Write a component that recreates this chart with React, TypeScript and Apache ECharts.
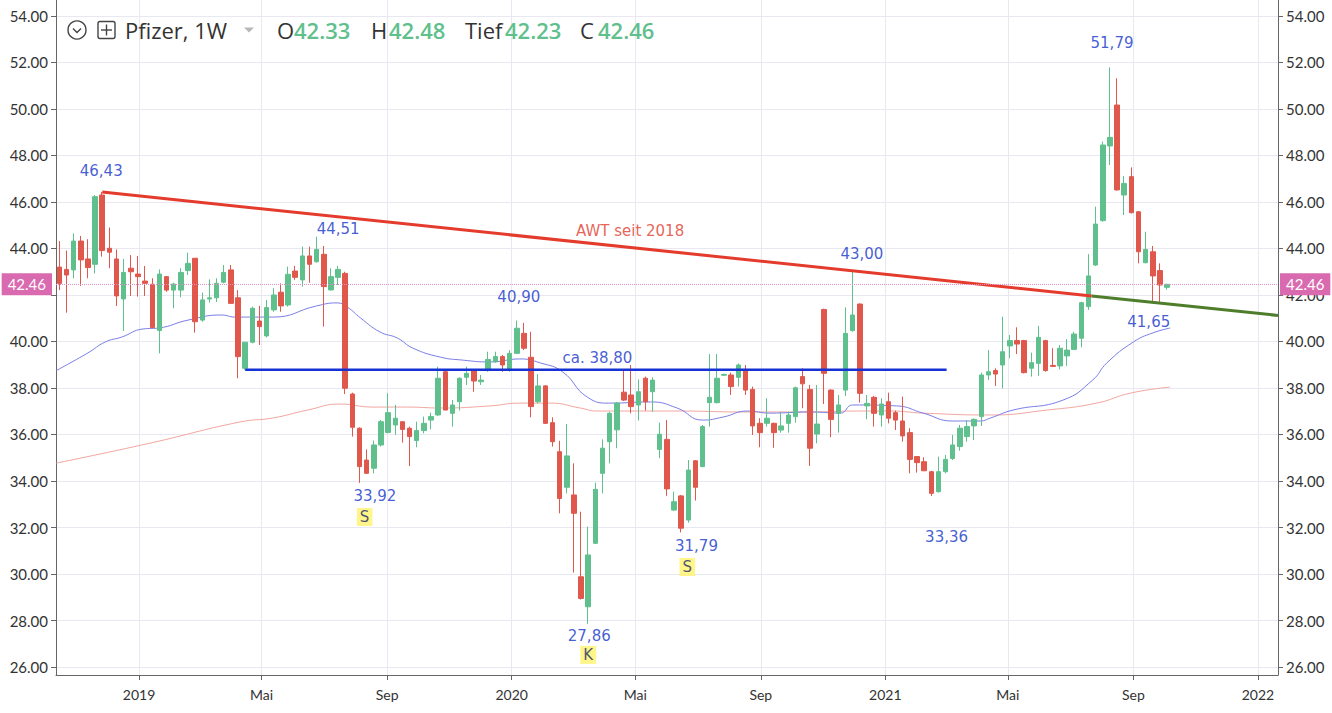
import React, { useEffect, useRef } from "react";
import * as echarts from "echarts";

// ---- data -----------------------------------------------------------------
const firstWeek = "2018-10-15"; // Monday of the first weekly candle

const opens = [
  43.20, 43.10, 43.08, 44.32, 43.55, 43.32, 46.30, 44.01, 43.55, 41.83,
  43.15, 42.90, 42.60, 42.46, 40.47, 42.79, 42.21, 42.21, 43.05, 43.58,
  40.92, 41.83, 41.88, 42.55, 43.08, 41.88, 38.85, 39.97, 40.88, 40.24,
  41.36, 42.12, 41.57, 43.03, 42.65, 43.68, 43.43, 43.75, 42.22, 42.76,
  42.93, 37.74, 36.27, 34.90, 34.55, 35.55, 36.09, 36.41, 36.55, 36.27,
  35.74, 36.17, 36.62, 36.84, 38.70, 36.91, 37.41, 38.46, 38.77, 38.27,
  38.75, 39.13, 39.35, 38.77, 39.49, 40.35, 39.32, 37.41, 38.09, 36.51,
  35.26, 33.73, 33.40, 29.88, 28.59, 31.32, 34.33, 35.69, 36.20, 37.82,
  37.70, 37.27, 38.42, 37.84, 35.36, 35.79, 32.75, 33.36, 32.32, 34.87,
  34.62, 37.37, 37.37, 38.55, 38.56, 38.46, 38.80, 37.94, 36.48, 36.48,
  36.48, 36.19, 36.48, 36.77, 38.49, 37.94, 36.02, 41.38, 37.91, 36.91,
  37.91, 40.47, 41.61, 37.23, 37.60, 36.84, 37.41, 36.94, 36.58, 36.08,
  35.05, 34.83, 34.40, 33.54, 34.40, 34.97, 35.48, 35.91, 36.37, 36.77,
  38.56, 38.75, 38.99, 39.81, 40.04, 40.04, 38.85, 39.06, 40.04, 38.97,
  38.95, 39.38, 39.66, 40.14, 41.50, 43.29, 45.20, 48.41, 50.17, 46.30,
  47.09, 45.58, 43.39, 43.86, 43.05, 42.33,
];
const closes = [
  42.50, 42.86, 44.32, 43.51, 43.18, 46.23, 43.91, 43.84, 41.96, 42.97,
  43.00, 42.79, 42.50, 40.60, 42.90, 42.21, 42.47, 42.97, 43.36, 40.85,
  41.79, 41.88, 42.50, 42.97, 41.64, 39.35, 39.97, 41.43, 40.64, 41.46,
  42.00, 41.53, 42.89, 42.76, 43.68, 43.32, 43.96, 42.36, 42.79, 43.10,
  37.99, 36.31, 34.62, 34.33, 35.55, 36.55, 36.94, 36.70, 36.22, 35.91,
  36.17, 36.48, 36.77, 38.42, 37.05, 37.27, 38.42, 38.63, 38.30, 38.34,
  39.23, 39.35, 38.99, 39.49, 40.57, 39.71, 37.20, 38.09, 36.48, 35.69,
  33.25, 35.08, 32.61, 28.95, 30.82, 33.64, 35.41, 36.91, 37.35, 37.48,
  37.20, 37.84, 37.41, 38.34, 36.01, 33.66, 33.11, 31.97, 34.47, 33.73,
  36.34, 37.60, 38.42, 38.58, 38.06, 38.99, 37.91, 36.37, 36.08, 36.70,
  36.08, 36.37, 36.84, 38.01, 38.18, 35.41, 36.45, 38.63, 36.65, 37.27,
  40.35, 41.14, 37.77, 37.34, 36.91, 37.31, 36.70, 36.62, 35.94, 34.93,
  34.79, 34.44, 33.47, 34.40, 34.93, 35.55, 36.27, 36.34, 36.65, 38.56,
  38.70, 38.60, 39.56, 40.04, 39.89, 38.66, 39.09, 40.18, 38.75, 38.93,
  39.71, 39.63, 40.32, 41.67, 42.82, 45.05, 48.45, 48.78, 46.52, 46.80,
  45.54, 43.86, 43.96, 42.82, 42.43, 42.46,
];
const lows = [
  42.21, 41.24, 42.72, 42.39, 42.72, 42.93, 43.65, 43.15, 41.53, 40.45,
  41.96, 41.93, 41.96, 40.57, 39.49, 42.14, 41.43, 41.90, 42.86, 40.38,
  40.85, 41.67, 41.70, 42.50, 41.61, 38.42, 38.78, 39.92, 39.85, 40.18,
  41.28, 41.28, 41.50, 42.65, 42.36, 42.53, 43.39, 40.64, 42.19, 42.43,
  37.74, 35.91, 33.92, 34.30, 34.33, 35.48, 36.05, 35.99, 35.65, 34.64,
  35.45, 36.05, 36.22, 36.81, 37.05, 36.34, 37.03, 38.13, 37.84, 38.13,
  38.70, 39.09, 38.70, 38.70, 39.46, 39.63, 36.74, 37.34, 36.45, 35.48,
  32.61, 33.47, 30.06, 28.90, 27.86, 31.29, 33.47, 34.76, 35.41, 37.44,
  36.91, 36.60, 37.03, 36.98, 34.98, 33.36, 32.72, 31.79, 32.21, 33.16,
  34.59, 36.34, 37.34, 38.52, 37.70, 38.06, 37.70, 35.98, 35.45, 36.34,
  35.43, 36.08, 36.08, 36.51, 37.13, 34.65, 35.62, 37.31, 35.88, 36.08,
  37.66, 40.42, 37.37, 36.65, 36.34, 36.34, 36.48, 36.19, 35.69, 34.33,
  34.36, 34.44, 33.36, 33.50, 34.33, 34.90, 35.30, 35.69, 35.76, 36.37,
  38.34, 38.09, 37.98, 39.28, 39.46, 38.63, 38.49, 38.52, 38.70, 38.92,
  38.80, 38.95, 39.66, 39.75, 41.36, 43.25, 45.15, 47.59, 46.49, 45.44,
  45.51, 43.36, 43.36, 41.71, 41.65, 42.23,
];
const highs = [
  44.32, 43.91, 44.65, 44.54, 44.40, 46.30, 46.43, 44.90, 43.96, 43.55,
  43.72, 43.68, 43.25, 42.72, 43.10, 42.82, 42.53, 43.15, 43.82, 43.58,
  42.10, 42.67, 42.72, 43.29, 43.29, 42.21, 39.97, 41.50, 41.53, 41.79,
  42.29, 42.50, 43.22, 43.25, 44.08, 44.08, 44.51, 44.11, 43.15, 43.25,
  43.00, 37.80, 36.31, 35.36, 35.74, 36.62, 37.77, 37.27, 36.58, 36.34,
  36.55, 36.77, 36.94, 38.92, 38.77, 37.48, 38.46, 38.92, 38.80, 38.56,
  39.56, 39.56, 39.42, 39.63, 40.90, 40.80, 40.42, 38.60, 38.13, 36.74,
  35.73, 36.45, 34.76, 32.68, 32.04, 33.93, 35.79, 36.98, 37.40, 38.80,
  38.99, 38.37, 38.49, 38.46, 36.51, 36.62, 33.54, 33.40, 34.90, 34.90,
  36.41, 39.46, 39.46, 38.62, 38.66, 39.06, 38.99, 38.06, 36.70, 37.56,
  36.51, 36.98, 36.98, 38.06, 38.85, 38.13, 38.13, 41.41, 37.94, 37.70,
  41.47, 43.00, 41.64, 37.70, 37.66, 37.56, 37.80, 37.03, 37.63, 36.27,
  35.07, 35.02, 34.44, 35.05, 35.12, 35.98, 36.41, 36.62, 36.70, 38.66,
  39.63, 38.85, 41.07, 40.28, 40.61, 40.07, 39.52, 40.67, 40.07, 39.71,
  39.85, 40.10, 40.42, 41.71, 43.76, 45.80, 48.60, 51.79, 51.32, 47.12,
  47.49, 45.61, 44.72, 44.11, 43.36, 42.48,
];

// moving averages: [day since 2019-01-01, price]
const maBlue: [number, number][] = [
  [-81, 38.75], [-50, 39.51], [-33, 39.98], [-17, 40.19], [4, 40.54], [19, 40.58],
  [48, 40.92], [81, 41.14], [94, 41.05], [114, 41.05], [131, 41.05], [174, 41.53],
  [194, 41.66], [204, 41.48], [217, 41.01], [236, 40.41], [253, 40.15], [268, 39.72],
  [295, 39.33], [317, 39.2], [344, 39.12], [373, 39.25], [393, 39.08], [415, 38.69],
  [439, 37.61], [461, 37.35], [501, 37.4], [527, 37.14], [552, 36.62], [572, 36.75],
  [596, 37.01], [618, 36.92], [657, 36.97], [687, 36.92], [699, 37.27], [742, 37.23],
  [768, 36.92], [797, 36.58], [824, 36.58], [834, 36.71], [856, 37.05], [905, 37.48],
  [934, 38.34], [948, 39.08], [974, 39.98], [993, 40.37], [1010, 40.58],
];
const maRed: [number, number][] = [
  [-81, 34.77], [11, 35.63], [99, 36.54], [131, 36.71], [165, 37.05], [197, 37.31],
  [229, 37.18], [263, 37.18], [295, 37.14], [344, 37.23], [373, 37.35], [403, 37.35],
  [432, 37.14], [449, 37.01], [481, 37.01], [527, 37.01], [592, 36.97], [657, 36.97],
  [703, 37.01], [736, 37.01], [768, 36.92], [834, 36.84], [889, 37.05], [938, 37.35],
  [971, 37.78], [1010, 38.04],
];

// drawn lines (day, price)
const trendRed: [number, number][] = [[-36, 46.43], [933, 41.96]];
const trendGreen: [number, number][] = [[933, 41.96], [1115.6, 41.12]];
const supportBlue: [number, number][] = [[104, 38.78], [791, 38.78]];

const xTickDays = [0, 120, 243, 365, 486, 609, 731, 851, 974, 1096];
const xTickLabels = ["2019", "Mai", "Sep", "2020", "Mai", "Sep", "2021", "Mai", "Sep", "2022"];
const yTicks = [26, 28, 30, 32, 34, 36, 38, 40, 42, 44, 46, 48, 50, 52, 54];
const lastPrice = 42.46;

const header = { title: "Pfizer, 1W", o: "42.33", h: "42.48", l: "42.23", c: "42.46" };

// annotations: [text, day, price, kind]
const notes: [string, number, number, string][] = [
  ["46,43", -37, 47.33, "blue"],
  ["44,51", 195, 44.84, "blue"],
  ["33,92", 231, 33.35, "blue"],
  ["S", 221, 32.45, "box"],
  ["40,90", 372, 41.91, "blue"],
  ["ca. 38,80", 449, 39.29, "blue"],
  ["27,86", 441, 27.33, "blue"],
  ["K", 440, 26.52, "box"],
  ["31,79", 546, 31.2, "blue"],
  ["S", 537, 30.3, "box"],
  ["43,00", 708, 43.76, "blue"],
  ["33,36", 791, 31.59, "blue"],
  ["51,79", 953, 52.84, "blue"],
  ["41,65", 989, 40.84, "blue"],
  ["AWT seit 2018", 481, 44.75, "red"],
];

// ---- styling ----------------------------------------------------------------
const GREEN = "#5fc08d";
const RED = "#e0574c";
const BLUE_TXT = "#1234c8";
const GRID = "#e8e8f2";
const FONT = "Lato, 'Noto Sans', sans-serif";
const HEAD_FONT = "'Open Sans', Lato, sans-serif";
const NOTE_FONT = "'DejaVu Sans', Verdana, sans-serif";
const Y_MIN = 25.656;
const Y_MAX = 54.688;

function dayOf(dateStr: string) {
  const [y, m, d] = dateStr.split("-").map(Number);
  return (Date.UTC(y, m - 1, d) - Date.UTC(2019, 0, 1)) / 864e5;
}

export default function App() {
  const ref = useRef<HTMLDivElement>(null);

  useEffect(() => {
    document.body.style.margin = "0";
    if (!ref.current) return;
    const chart = echarts.init(ref.current, null, { renderer: "svg" });
    const d0 = dayOf(firstWeek);
    const candles = opens.map((o, i) => [d0 + 7 * i, o, closes[i], lows[i], highs[i]]);

    const yAxisBase = (pos: "left" | "right") => ({
      type: "value",
      position: pos,
      min: Y_MIN,
      max: Y_MAX,
      axisLine: { show: true, onZero: false, lineStyle: { color: "#666", width: 1 } },
      axisTick: { show: true, customValues: yTicks, length: 5, lineStyle: { color: "#666" } },
      axisLabel: {
        customValues: yTicks,
        // on the left the last-price tag hides the 42.00 label, as in the original
        formatter: (v: number) => (pos === "left" && Math.abs(v - 42) < 0.01 ? "" : v.toFixed(2)),
        color: "#333",
        fontSize: 15,
        fontFamily: FONT,
        margin: 8,
      },
      splitLine: { show: pos === "left", lineStyle: { color: GRID, width: 1 } },
    });

    const labelFor = (v: number) => {
      const idx = xTickDays.findIndex((t) => Math.abs(t - v) < 0.5);
      return idx >= 0 ? xTickLabels[idx] : "";
    };

    const lineSeries = (data: [number, number][], color: string, width: number, z: number, smooth = false) => ({
      type: "line",
      data,
      symbol: "none",
      smooth,
      silent: true,
      z,
      lineStyle: { color, width },
    });

    const noteData = notes.map(([text, d, p, kind]) => ({
      value: [d, p],
      name: text,
      label:
        kind === "box"
          ? { color: "#1a2a6a", backgroundColor: "#fff36b", padding: [2, 3, 1, 3], fontSize: 15 }
          : { color: kind === "red" ? "#e23a2c" : BLUE_TXT, fontSize: 15 },
    }));

    const txt = (text: string, x: number, fill: string, bold = false, size = 22) => ({
      type: "text",
      x,
      y: 30,
      z: 100,
      style: {
        text,
        fill,
        fontSize: size,
        fontFamily: HEAD_FONT,
        fontWeight: bold ? 600 : "normal",
        verticalAlign: "middle",
        align: "left",
      },
    });

    chart.setOption({
      animation: false,
      backgroundColor: "#ffffff",
      grid: { left: 56, right: 54, top: 0, bottom: 38 },
      xAxis: {
        type: "value",
        min: -81.3,
        max: 1115.6,
        axisLine: { show: true, onZero: false, lineStyle: { color: "#666", width: 1 } },
        axisTick: { show: true, customValues: xTickDays, length: 5, lineStyle: { color: "#666" } },
        axisLabel: {
          customValues: xTickDays,
          formatter: labelFor,
          color: "#333",
          fontSize: 14,
          fontFamily: FONT,
          margin: 12,
        },
        splitLine: { show: true, lineStyle: { color: GRID, width: 1 } },
      },
      yAxis: [yAxisBase("left"), yAxisBase("right")],
      series: [
        lineSeries(maRed, "#f2a6a0", 1, 2, true),
        lineSeries(maBlue, "#7a7ee8", 1, 2, true),
        {
          type: "candlestick",
          data: candles,
          encode: { x: 0, y: [1, 2, 3, 4] },
          barWidth: 5,
          z: 3,
          itemStyle: {
            color: GREEN,
            color0: RED,
            borderColor: GREEN,
            borderColor0: RED,
            borderWidth: 1,
          },
          markLine: {
            silent: true,
            symbol: "none",
            z: 10,
            lineStyle: { color: "#e38fc4", type: "dotted", width: 1 },
            label: {
              formatter: () => lastPrice.toFixed(2),
              color: "#fff",
              backgroundColor: "#d96aaf",
              fontSize: 15,
              fontFamily: FONT,
              padding: [4, 6, 3, 6],
            },
            data: [
              { yAxis: lastPrice, label: { position: "end", distance: 2 } },
              { yAxis: lastPrice, label: { position: "start", distance: 4 } },
            ],
          },
        },
        lineSeries(trendRed, "#e43b2c", 3, 4),
        lineSeries(trendGreen, "#4e7d2b", 3, 4),
        lineSeries(supportBlue, "#1632d4", 2.5, 4),
        {
          type: "scatter",
          data: noteData,
          symbolSize: 0.1,
          silent: true,
          z: 6,
          itemStyle: { color: "transparent" },
          label: {
            show: true,
            position: "inside",
            formatter: (p: any) => p.name,
            fontFamily: NOTE_FONT,
          },
        },
      ],
      graphic: [
        { type: "circle", z: 100, shape: { cx: 77, cy: 30, r: 9 }, style: { fill: "none", stroke: "#444", lineWidth: 1.4 } },
        { type: "polyline", z: 100, shape: { points: [[73, 28.5], [77, 32.5], [81, 28.5]] }, style: { fill: "none", stroke: "#444", lineWidth: 1.4 } },
        { type: "rect", z: 100, shape: { x: 98, y: 21.5, width: 17, height: 17, r: 2 }, style: { fill: "none", stroke: "#444", lineWidth: 1.4 } },
        { type: "line", z: 100, shape: { x1: 101, y1: 30, x2: 112, y2: 30 }, style: { stroke: "#444", lineWidth: 1.4 } },
        { type: "line", z: 100, shape: { x1: 106.5, y1: 24.5, x2: 106.5, y2: 35.5 }, style: { stroke: "#444", lineWidth: 1.4 } },
        txt(header.title, 125, "#333"),
        { type: "polygon", z: 100, shape: { points: [[244, 27.5], [254, 27.5], [249, 32.5]] }, style: { fill: "#b8b8b8" } },
        txt("O", 277, "#333"),
        txt(header.o, 294, GREEN, true),
        txt("H", 371, "#333"),
        txt(header.h, 389, GREEN, true),
        txt("Tief", 465, "#333"),
        txt(header.l, 505, GREEN, true),
        txt("C", 580, "#333"),
        txt(header.c, 598, GREEN, true),
      ],
    });

    return () => chart.dispose();
  }, []);

  return <div ref={ref} style={{ width: 1332, height: 713 }} />;
}
